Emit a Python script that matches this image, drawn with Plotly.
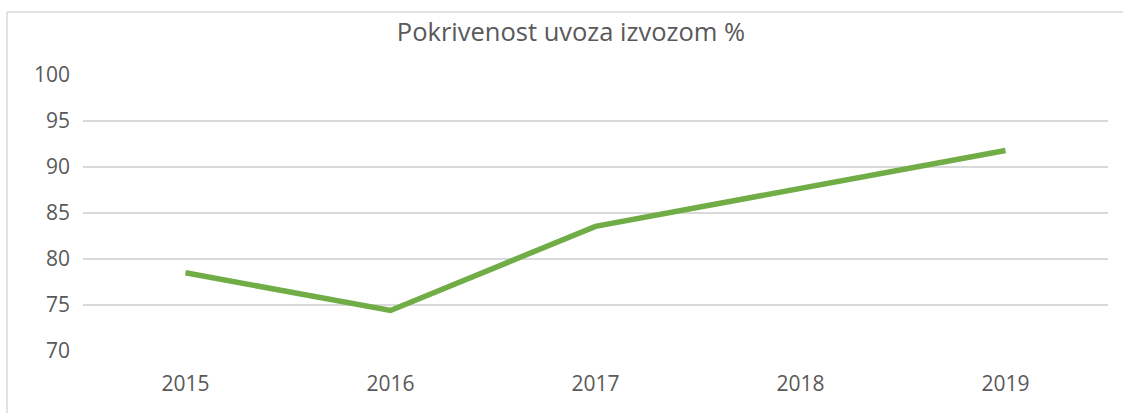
import plotly.graph_objects as go

years = ["2015", "2016", "2017", "2018", "2019"]
coverage = [78.5, 74.4, 83.55, 87.65, 91.8]
y_ticks = [70, 75, 80, 85, 90, 95, 100]
title_text = "Pokrivenost uvoza izvozom %"

W, H = 1123, 413
L, R, T, B = 83, 15, 75, 62
pw, ph = W - L - R, H - T - B

fig = go.Figure()
fig.add_trace(go.Scatter(
    x=years, y=coverage, mode="lines",
    line=dict(color="#70AD47", width=5.5),
    hoverinfo="x+y", showlegend=False,
))

font_family = "Open Sans, Liberation Sans, sans-serif"
fig.update_layout(
    width=W, height=H,
    margin=dict(l=L, r=R, t=T, b=B),
    paper_bgcolor="white", plot_bgcolor="white",
    title=dict(text=title_text, x=571 / W, xref="container", xanchor="center",
               y=1 - 32 / H, yref="container", yanchor="middle",
               font=dict(family=font_family, size=25.5, color="#595959")),
    xaxis=dict(type="category", range=[-0.5, 4.5], showgrid=False, zeroline=False,
               showline=False, ticks="", tickfont=dict(family=font_family, size=21, color="#595959"),
               ticklabelstandoff=18),
    yaxis=dict(range=[70, 100], tickvals=y_ticks, showgrid=True, gridcolor="#D9D9D9",
               gridwidth=1.5, zeroline=False, showline=False, ticks="",
               tickfont=dict(family=font_family, size=21, color="#595959"),
               ticklabelstandoff=12),
)

# chart-area border (light gray): top and left edges visible in the crop
bx0 = (7 - L) / pw
by_top = (H - B - 12) / ph
fig.add_shape(type="line", xref="paper", yref="paper",
              x0=bx0, x1=(W - L) / pw, y0=by_top, y1=by_top,
              line=dict(color="#D9D9D9", width=1.5), layer="below")
fig.add_shape(type="line", xref="paper", yref="paper",
              x0=bx0, x1=bx0, y0=by_top, y1=-B / ph,
              line=dict(color="#D9D9D9", width=1.5), layer="below")

fig.write_html("out.html", config={"displayModeBar": False},
               post_script="document.body.style.margin='0';document.body.style.overflow='hidden';")
